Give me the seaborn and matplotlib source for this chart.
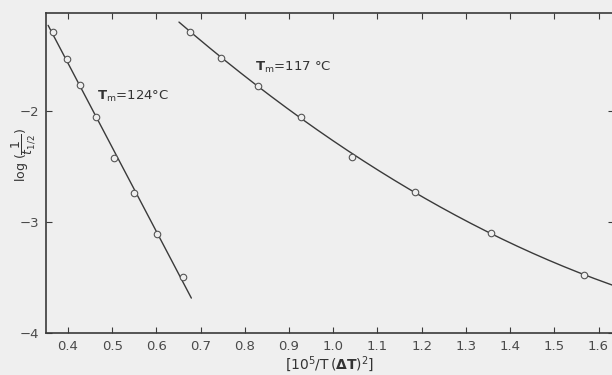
import matplotlib
matplotlib.use("Agg")
import matplotlib.pyplot as plt
import numpy as np
import pandas as pd
import seaborn as sns

# data
x_124 = [0.366, 0.397, 0.428, 0.463, 0.503, 0.550, 0.601, 0.661]
y_124 = [-1.286, -1.532, -1.768, -2.051, -2.426, -2.736, -3.105, -3.493]
x_117 = [0.675, 0.747, 0.829, 0.927, 1.043, 1.184, 1.356, 1.567]
y_117 = [-1.286, -1.520, -1.772, -2.051, -2.414, -2.727, -3.096, -3.477]
# drawn extent of the fitted curves
span_124 = [0.355, 0.679]
span_117 = [0.651, 1.64]
x_ticks = [0.4, 0.5, 0.6, 0.7, 0.8, 0.9, 1.0, 1.1, 1.2, 1.3, 1.4, 1.5, 1.6]
x_ticklabels = ["0.4", "0.5", "0.6", "0.7", "0.8", "0.9", "1.0", "1.1", "1.2", "1.3", "1.4", "1.5", "1.6"]
y_ticks = [-4, -3, -2]
y_ticklabels = ["\u22124", "\u22123", "\u22122"]

bg = "#efefef"
ink = "#3a3a3a"

sns.set_style("ticks")
plt.rcParams["font.family"] = ["DejaVu Sans"]
plt.rcParams["mathtext.fontset"] = "dejavusans"

fig = plt.figure(figsize=(6.12, 3.75), dpi=100)
fig.patch.set_facecolor(bg)
ax = fig.add_axes([0.075, 0.112, 0.928, 0.853])
ax.set_facecolor(bg)

# fitted lines: linear for 124 C, quadratic for 117 C
c1 = np.polyfit(x_124, y_124, 1)
c2 = np.polyfit(x_117, y_117, 2)
xs1 = np.linspace(span_124[0], span_124[1], 50)
xs2 = np.linspace(span_117[0], span_117[1], 200)
fit = pd.concat([
    pd.DataFrame({"x": xs1, "y": np.polyval(c1, xs1), "s": "124"}),
    pd.DataFrame({"x": xs2, "y": np.polyval(c2, xs2), "s": "117"}),
])
sns.lineplot(data=fit, x="x", y="y", units="s", estimator=None, color=ink, lw=1.0, ax=ax, sort=True)

pts = pd.DataFrame({"x": x_124 + x_117, "y": y_124 + y_117})
sns.scatterplot(data=pts, x="x", y="y", s=22, marker="o", facecolor=bg, edgecolor="#555555",
                linewidth=0.8, ax=ax, zorder=3)

ax.set_xlim(0.35, 1.6346)
ax.set_ylim(-4, -1.12)
ax.set_xticks(x_ticks)
ax.set_xticklabels(x_ticklabels)
ax.set_yticks(y_ticks)
ax.set_yticklabels(y_ticklabels)
ax.tick_params(direction="in", length=4, width=0.8, color=ink, labelcolor="#4a4a4a",
               labelsize=9.5, top=True, right=True, pad=5)
for sp in ax.spines.values():
    sp.set_visible(True)
    sp.set_color(ink)
    sp.set_linewidth(1.2)

ax.set_xlabel(r"$\left[10^5/\mathrm{T}\,(\mathbf{\Delta T})^2\right]$", fontsize=10, color="#333333", labelpad=1)
ax.set_ylabel(r"$\log\,(\dfrac{1}{t_{1/2}})$", fontsize=9, color="#333333")
ax.yaxis.set_label_coords(-0.016, 0.556)

ax.text(0.465, -1.874, r"$\mathbf{T}_{\rm m}$=124$\degree$C", fontsize=9.5, color="#333333", va="center")
ax.text(0.822, -1.61, r"$\mathbf{T}_{\rm m}$=117 $\degree$C", fontsize=9.5, color="#333333", va="center")

fig.savefig("out.png", dpi=100, facecolor=bg)
